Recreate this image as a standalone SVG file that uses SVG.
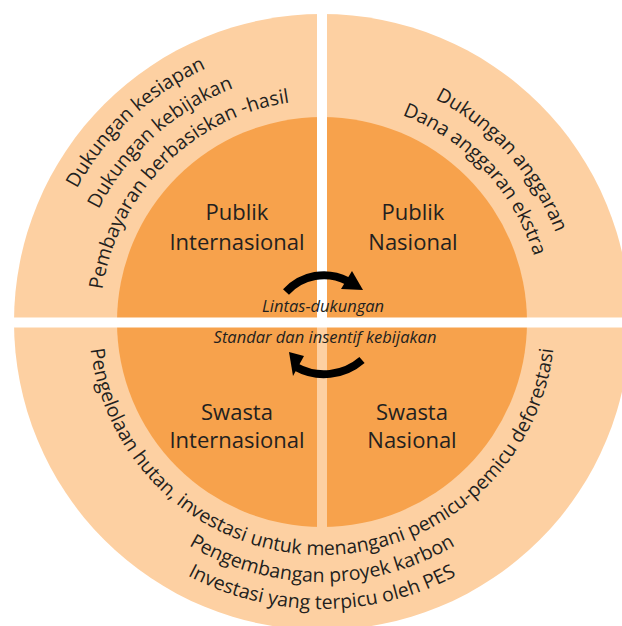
<svg xmlns="http://www.w3.org/2000/svg" width="622" height="626" viewBox="0 0 622 626">
  <style>
    .ring { fill: #FDD0A2; }
    .core { fill: #F7A24C; }
    .gap { fill: #FFFFFF; }
    .divider { fill: #FDD0A2; }
    .label { font-family: "Open Sans", "Noto Sans", sans-serif; font-size: 22px; fill: #231F20; text-anchor: middle; }
    .note { font-family: "Open Sans", "Noto Sans", sans-serif; font-size: 16.5px; font-style: italic; fill: #231F20; text-anchor: middle; }
    .arc { font-family: "Open Sans", "Noto Sans", sans-serif; font-size: 19.5px; fill: #231F20; text-anchor: middle; }
    .link { fill: none; stroke: #000000; stroke-width: 8; }
    .head { fill: #000000; }
  </style>
  <defs>
    <!-- upper-left arcs, clockwise, centred on 225-228 deg -->
    <path id="pA" d="M102.15,493.78 A279,279 0 0 1 508.68,114.67"/>
    <path id="pB" d="M122.35,472.45 A250,250 0 0 1 492.5,139.15"/>
    <path id="pC" d="M151.95,464.70 A222,222 0 0 1 464.70,151.95"/>
    <!-- upper-right arcs, clockwise, centred on 317-318 deg -->
    <path id="pD" d="M171.55,122.35 A250,250 0 0 1 504.85,492.5"/>
    <path id="pE" d="M185.31,147.06 A222,222 0 0 1 486.97,470.54"/>
    <!-- lower arcs, counter-clockwise, centred on 90 deg -->
    <path id="pF" d="M103.05,242.31 A233,233 0 1 0 540.95,242.31"/>
    <path id="pG" d="M96.83,452 A260,260 0 0 0 547.17,452"/>
    <path id="pH" d="M73.45,465.5 A287,287 0 0 0 570.55,465.5"/>
  </defs>

  <!-- discs -->
  <circle class="ring" cx="322" cy="322" r="308"/>
  <circle class="core" cx="322" cy="322" r="205"/>
  <rect class="gap" x="317" y="0" width="10" height="322"/>
  <rect class="divider" x="317" y="327" width="10" height="202"/>
  <rect class="gap" x="0" y="317.5" width="622" height="10"/>

  <g id="publik-internasional">
    <text class="label" x="237" y="220">Publik</text>
    <text class="label" x="237" y="250">Internasional</text>
    <text class="arc"><textPath href="#pA" startOffset="50%">Dukungan kesiapan</textPath></text>
    <text class="arc"><textPath href="#pB" startOffset="50%">Dukungan kebijakan</textPath></text>
    <text class="arc"><textPath href="#pC" startOffset="50%">Pembayaran berbasiskan -hasil</textPath></text>
  </g>

  <g id="publik-nasional">
    <text class="label" x="413" y="220">Publik</text>
    <text class="label" x="413" y="250">Nasional</text>
    <text class="arc"><textPath href="#pD" startOffset="50%">Dukungan anggaran</textPath></text>
    <text class="arc"><textPath href="#pE" startOffset="50%">Dana anggaran ekstra</textPath></text>
  </g>

  <g id="swasta-internasional">
    <text class="label" x="237" y="420">Swasta</text>
    <text class="label" x="237" y="448">Internasional</text>
  </g>

  <g id="swasta-nasional">
    <text class="label" x="412" y="420">Swasta</text>
    <text class="label" x="412" y="448">Nasional</text>
  </g>

  <g id="swasta-ring">
    <text class="arc"><textPath href="#pF" startOffset="50%">Pengelolaan hutan, investasi untuk menangani pemicu-pemicu deforestasi</textPath></text>
    <text class="arc"><textPath href="#pG" startOffset="50%">Pengembangan proyek karbon</textPath></text>
    <text class="arc"><textPath href="#pH" startOffset="50%">Investasi yang terpicu oleh PES</textPath></text>
  </g>

  <g id="connectors">
    <path class="link" d="M286,292 A51,51 0 0 1 347.5,281"/>
    <polygon class="head" points="352,271 363,290 341,289"/>
    <text class="note" x="323" y="312">Lintas-dukungan</text>
    <text class="note" x="325" y="343">Standar dan insentif kebijakan</text>
    <path class="link" d="M362,360 A58,58 0 0 1 296,367"/>
    <polygon class="head" points="289,352 304,356 293,376"/>
  </g>
</svg>
